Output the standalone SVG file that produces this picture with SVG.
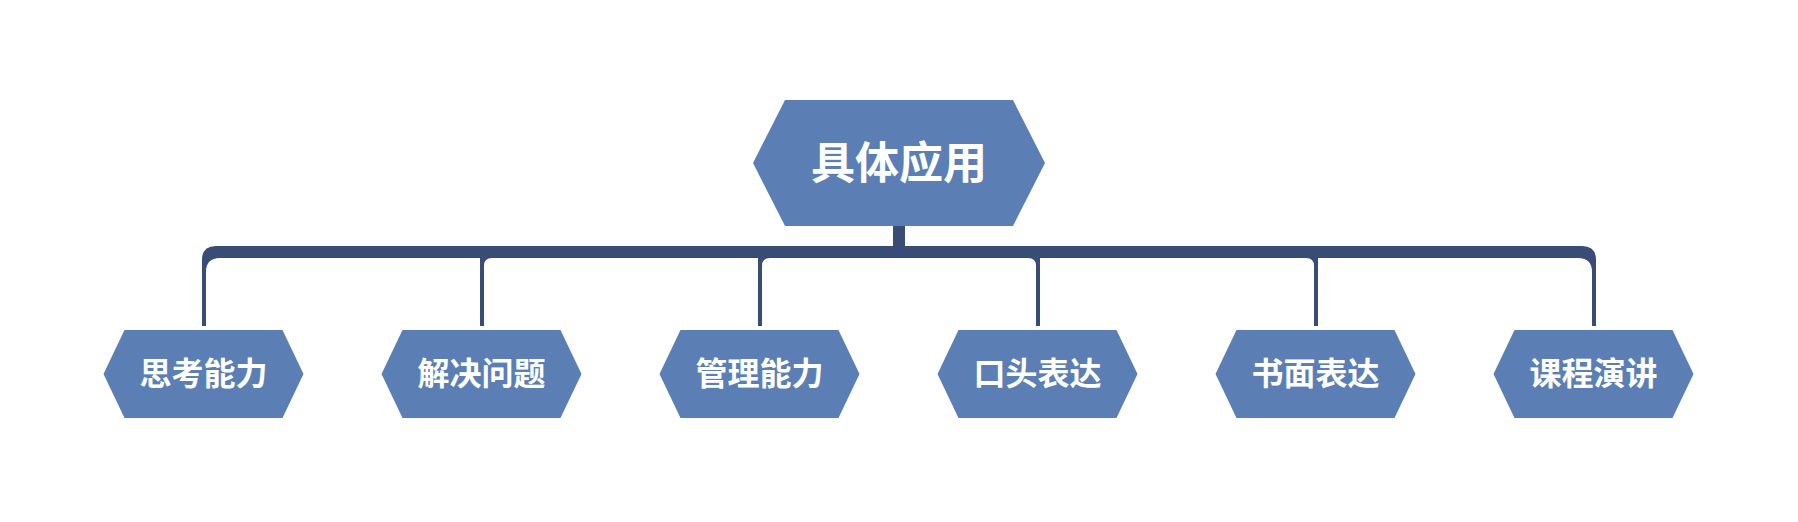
<svg xmlns="http://www.w3.org/2000/svg" width="1798" height="522" viewBox="0 0 1798 522">
<style>
.hex{fill:#5B7FB4;}
.conn{fill:#394C75;}
.t{fill:#ffffff;font-family:"Noto Sans CJK SC","Noto Sans",sans-serif;font-weight:bold;text-anchor:middle;dominant-baseline:central;}
.root{font-size:44px;}
.child{font-size:32px;}
</style>
<rect width="1798" height="522" fill="#ffffff"/>
<g id="connectors">
<path class="conn" d="M 893 226 H 905 V 258 H 220 Q 206 258 206 272 V 326 H 202 V 260 Q 202 246 216 246 H 893 Z"/>
<path class="conn" d="M 893 226 H 905 V 258 H 492 Q 484 258 484 266 V 326 H 480 V 246 H 893 Z"/>
<path class="conn" d="M 893 226 H 905 V 258 H 770 Q 762 258 762 266 V 326 H 758 V 246 H 893 Z"/>
<path class="conn" d="M 893 226 H 905 V 246 H 1040 V 326 H 1036 V 266 Q 1036 258 1028 258 H 893 Z"/>
<path class="conn" d="M 893 226 H 905 V 246 H 1318 V 326 H 1314 V 266 Q 1314 258 1306 258 H 893 Z"/>
<path class="conn" d="M 893 226 H 905 V 246 H 1582 Q 1596 246 1596 260 V 326 H 1592 V 272 Q 1592 258 1578 258 H 893 Z"/>
</g>
<g id="root">
<polygon class="hex" points="785,100 1013,100 1045,163 1013,226 785,226 753,163"/>
<text class="t root" x="899" y="160">具体应用</text>
</g>
<g id="n1">
<polygon class="hex" points="124.5,330 282.5,330 303.5,374 282.5,418 124.5,418 103.5,374"/>
<text class="t child" x="203.5" y="371">思考能力</text>
</g>
<g id="n2">
<polygon class="hex" points="402.5,330 560.5,330 581.5,374 560.5,418 402.5,418 381.5,374"/>
<text class="t child" x="481.5" y="371">解决问题</text>
</g>
<g id="n3">
<polygon class="hex" points="680.5,330 838.5,330 859.5,374 838.5,418 680.5,418 659.5,374"/>
<text class="t child" x="759.5" y="371">管理能力</text>
</g>
<g id="n4">
<polygon class="hex" points="958.5,330 1116.5,330 1137.5,374 1116.5,418 958.5,418 937.5,374"/>
<text class="t child" x="1037.5" y="371">口头表达</text>
</g>
<g id="n5">
<polygon class="hex" points="1236.5,330 1394.5,330 1415.5,374 1394.5,418 1236.5,418 1215.5,374"/>
<text class="t child" x="1315.5" y="371">书面表达</text>
</g>
<g id="n6">
<polygon class="hex" points="1514.5,330 1672.5,330 1693.5,374 1672.5,418 1514.5,418 1493.5,374"/>
<text class="t child" x="1593.5" y="371">课程演讲</text>
</g>
</svg>
